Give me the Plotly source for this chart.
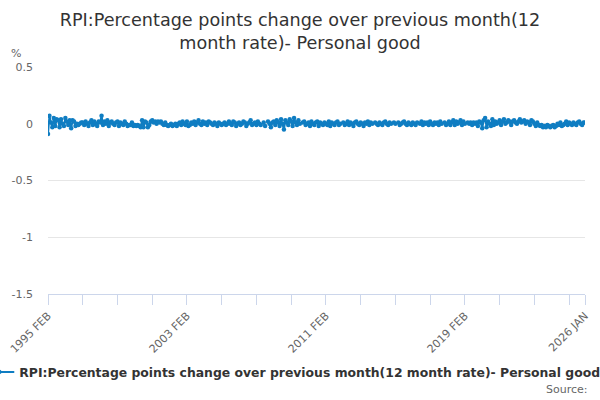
import plotly.graph_objects as go

MONTHS = ["JAN", "FEB", "MAR", "APR", "MAY", "JUN", "JUL", "AUG", "SEP", "OCT", "NOV", "DEC"]

# Monthly values, Feb of each year through Jan of the following year
v1995 = [-0.09, 0.07, 0.01, -0.03, 0.05, -0.02, 0.04, 0.03, -0.03, 0.04, 0.00, -0.02]
v1996 = [0.05, 0.02, -0.01, 0.03, -0.04, 0.03, 0.02, -0.02, 0.00, -0.01, 0.00, 0.01]
v1997 = [0.01, -0.01, 0.02, 0.00, -0.02, 0.01, 0.03, -0.01, 0.02, 0.00, -0.02, 0.02]
v1998 = [0.01, 0.07, -0.01, 0.02, 0.00, 0.03, -0.02, 0.01, 0.02, 0.00, -0.01, 0.01]
v1999 = [0.02, -0.02, 0.01, 0.00, -0.01, 0.02, 0.00, -0.02, -0.01, -0.01, 0.01, -0.02]
v2000 = [-0.01, -0.02, -0.01, -0.02, -0.03, 0.03, -0.03, 0.02, 0.01, -0.03, -0.01, 0.02]
v2001 = [0.03, 0.01, 0.02, 0.00, 0.02, 0.01, 0.02, 0.00, -0.01, 0.01, -0.01, -0.02]
v2002 = [-0.01, 0.00, -0.02, -0.01, 0.00, -0.02, 0.00, 0.01, -0.01, 0.02, 0.00, -0.01]
v2003 = [0.02, -0.02, -0.01, 0.01, 0.00, 0.02, -0.01, 0.01, 0.03, 0.00, -0.01, 0.02]
v2004 = [0.00, 0.01, -0.01, 0.02, 0.01, 0.00, -0.01, 0.01, 0.00, -0.02, 0.01, 0.00]
v2005 = [-0.01, 0.00, 0.01, -0.01, 0.00, 0.02, 0.00, -0.01, 0.02, 0.01, -0.02, 0.00]
v2006 = [0.01, -0.01, 0.00, 0.02, 0.01, -0.02, 0.00, 0.01, 0.03, -0.01, 0.00, 0.01]
v2007 = [-0.01, 0.02, 0.00, -0.01, None, 0.01, -0.02, None, 0.02, 0.00, -0.03, 0.01]
v2008 = [0.02, -0.01, 0.03, 0.01, -0.02, 0.04, 0.00, -0.05, 0.03, 0.01, -0.01, 0.04]
v2009 = [0.02, -0.02, 0.05, 0.01, -0.01, 0.03, 0.00, None, 0.01, 0.02, -0.01, 0.00]
v2010 = [0.01, -0.02, 0.02, 0.00, -0.01, 0.01, 0.02, -0.02, 0.01, 0.00, -0.01, 0.01]
v2011 = [0.00, -0.01, 0.02, -0.02, 0.01, 0.00, -0.01, 0.01, 0.02, -0.01, 0.00, None]
v2012 = [0.01, -0.01, 0.00, 0.02, -0.01, 0.01, 0.00, -0.02, 0.01, 0.02, 0.00, -0.01]
v2013 = [0.01, 0.00, -0.02, 0.01, 0.00, 0.02, -0.01, 0.01, 0.00, None, 0.01, 0.00]
v2014 = [-0.01, 0.01, 0.00, -0.01, 0.01, 0.02, 0.00, -0.01, 0.01, 0.00, None, 0.01]
v2015 = [0.00, None, 0.01, -0.01, 0.00, 0.01, 0.02, 0.00, -0.01, 0.01, 0.00, -0.01]
v2016 = [0.01, 0.00, -0.01, 0.01, None, 0.00, 0.02, -0.01, 0.01, 0.00, 0.01, -0.01]
v2017 = [0.02, 0.00, -0.01, 0.01, 0.00, 0.01, -0.01, 0.02, 0.00, None, 0.01, -0.01]
v2018 = [0.00, 0.02, -0.01, 0.01, 0.03, -0.01, 0.02, 0.00, 0.01, 0.03, -0.01, 0.02]
v2019 = [0.00, None, 0.01, 0.00, 0.01, -0.01, 0.01, 0.00, 0.01, -0.02, 0.02, 0.01]
v2020 = [-0.04, 0.03, 0.05, -0.03, 0.02, 0.00, -0.02, 0.04, -0.01, 0.02, 0.00, 0.01]
v2021 = [0.03, -0.01, 0.02, 0.04, 0.00, 0.01, 0.03, 0.02, -0.01, 0.02, 0.03, 0.01]
v2022 = [0.00, 0.02, 0.04, 0.01, 0.02, 0.03, 0.00, 0.02, 0.01, -0.01, 0.03, 0.02]
v2023 = [0.00, -0.02, 0.01, -0.01, -0.02, -0.01, -0.03, -0.02, -0.03, -0.01, -0.02, -0.03]
v2024 = [-0.02, -0.01, -0.03, -0.02, 0.00, -0.01, 0.01, -0.02, -0.01, 0.00, 0.02, -0.01]
v2025 = [0.01, 0.00, -0.01, 0.01, 0.00, -0.01, 0.01, 0.02, 0.00, -0.01, 0.01, 0.01]

year_rows = [v1995, v1996, v1997, v1998, v1999, v2000, v2001, v2002, v2003, v2004,
             v2005, v2006, v2007, v2008, v2009, v2010, v2011, v2012, v2013, v2014,
             v2015, v2016, v2017, v2018, v2019, v2020, v2021, v2022, v2023, v2024, v2025]
start_years = list(range(1995, 2026))

values = []
labels = []
for yr, row in zip(start_years, year_rows):
    for k, val in enumerate(row):
        m = (k + 1) % 12  # Feb .. Jan
        y = yr if m != 0 else yr + 1
        labels.append(f"{y} {MONTHS[m]}")
        values.append(val)

tick_vals = labels[::24] + [labels[-1]]
shown_ticks = ["1995 FEB", "2003 FEB", "2011 FEB", "2019 FEB", "2026 JAN"]
tick_text = [t if t in shown_ticks else "" for t in tick_vals]

series_name = "RPI:Percentage points change over previous month(12 month rate)- Personal good"
color = "#0f7dc2"

fig = go.Figure()
fig.add_trace(go.Scatter(
    x=labels, y=values, mode="lines+markers", name=series_name,
    line=dict(color=color, width=2), marker=dict(color=color, size=4.5),
    connectgaps=False,
))

font_family = "DejaVu Sans"
fig.update_layout(
    width=600, height=400,
    paper_bgcolor="white", plot_bgcolor="white",
    margin=dict(l=48, r=15, t=67, b=106, autoexpand=False),
    font=dict(family=font_family, color="#666666", size=11),
    title=dict(
        text="RPI:Percentage points change over previous month(12<br>month rate)- Personal good",
        x=0.5, xanchor="center", yref="container", y=0.935, yanchor="middle",
        font=dict(family=font_family, size=17.6, color="#333333"),
    ),
    showlegend=True,
    legend=dict(
        orientation="h", x=-0.128, xanchor="left", y=-0.345, yanchor="middle",
        font=dict(family=font_family, size=12.4, color="#333333", weight="bold"),
        bgcolor="rgba(0,0,0,0)",
    ),
    xaxis=dict(
        type="category", range=[0, len(labels) - 1],
        tickmode="array", tickvals=tick_vals, ticktext=tick_text,
        tickangle=-45, ticks="outside", ticklen=10, tickcolor="#ccd6eb",
        showline=True, linecolor="#ccd6eb", linewidth=1,
        showgrid=False, zeroline=False,
        tickfont=dict(family=font_family, size=11, color="#666666"),
    ),
    yaxis=dict(
        range=[-1.5, 0.5], tickvals=[-1.5, -1, -0.5, 0, 0.5],
        ticktext=["-1.5", "-1", "-0.5", "0", "0.5"],
        showgrid=True, gridcolor="#e6e6e6", gridwidth=1,
        zeroline=False, showline=False, ticks="",
        ticklabelstandoff=14,
        tickfont=dict(family=font_family, size=11, color="#666666"),
    ),
    annotations=[
        dict(text="%", xref="paper", yref="paper", x=-0.072, y=1.06,
             xanchor="left", yanchor="middle", showarrow=False,
             font=dict(family=font_family, size=11, color="#666666")),
        dict(text="Source:", xref="paper", yref="paper", x=1.01, y=-0.42,
             xanchor="right", yanchor="middle", showarrow=False,
             font=dict(family=font_family, size=11, color="#666666")),
    ],
)

fig.write_html(
    "out.html",
    config={"displayModeBar": False},
    post_script="document.body.style.margin='0';document.body.style.overflow='hidden';",
)
